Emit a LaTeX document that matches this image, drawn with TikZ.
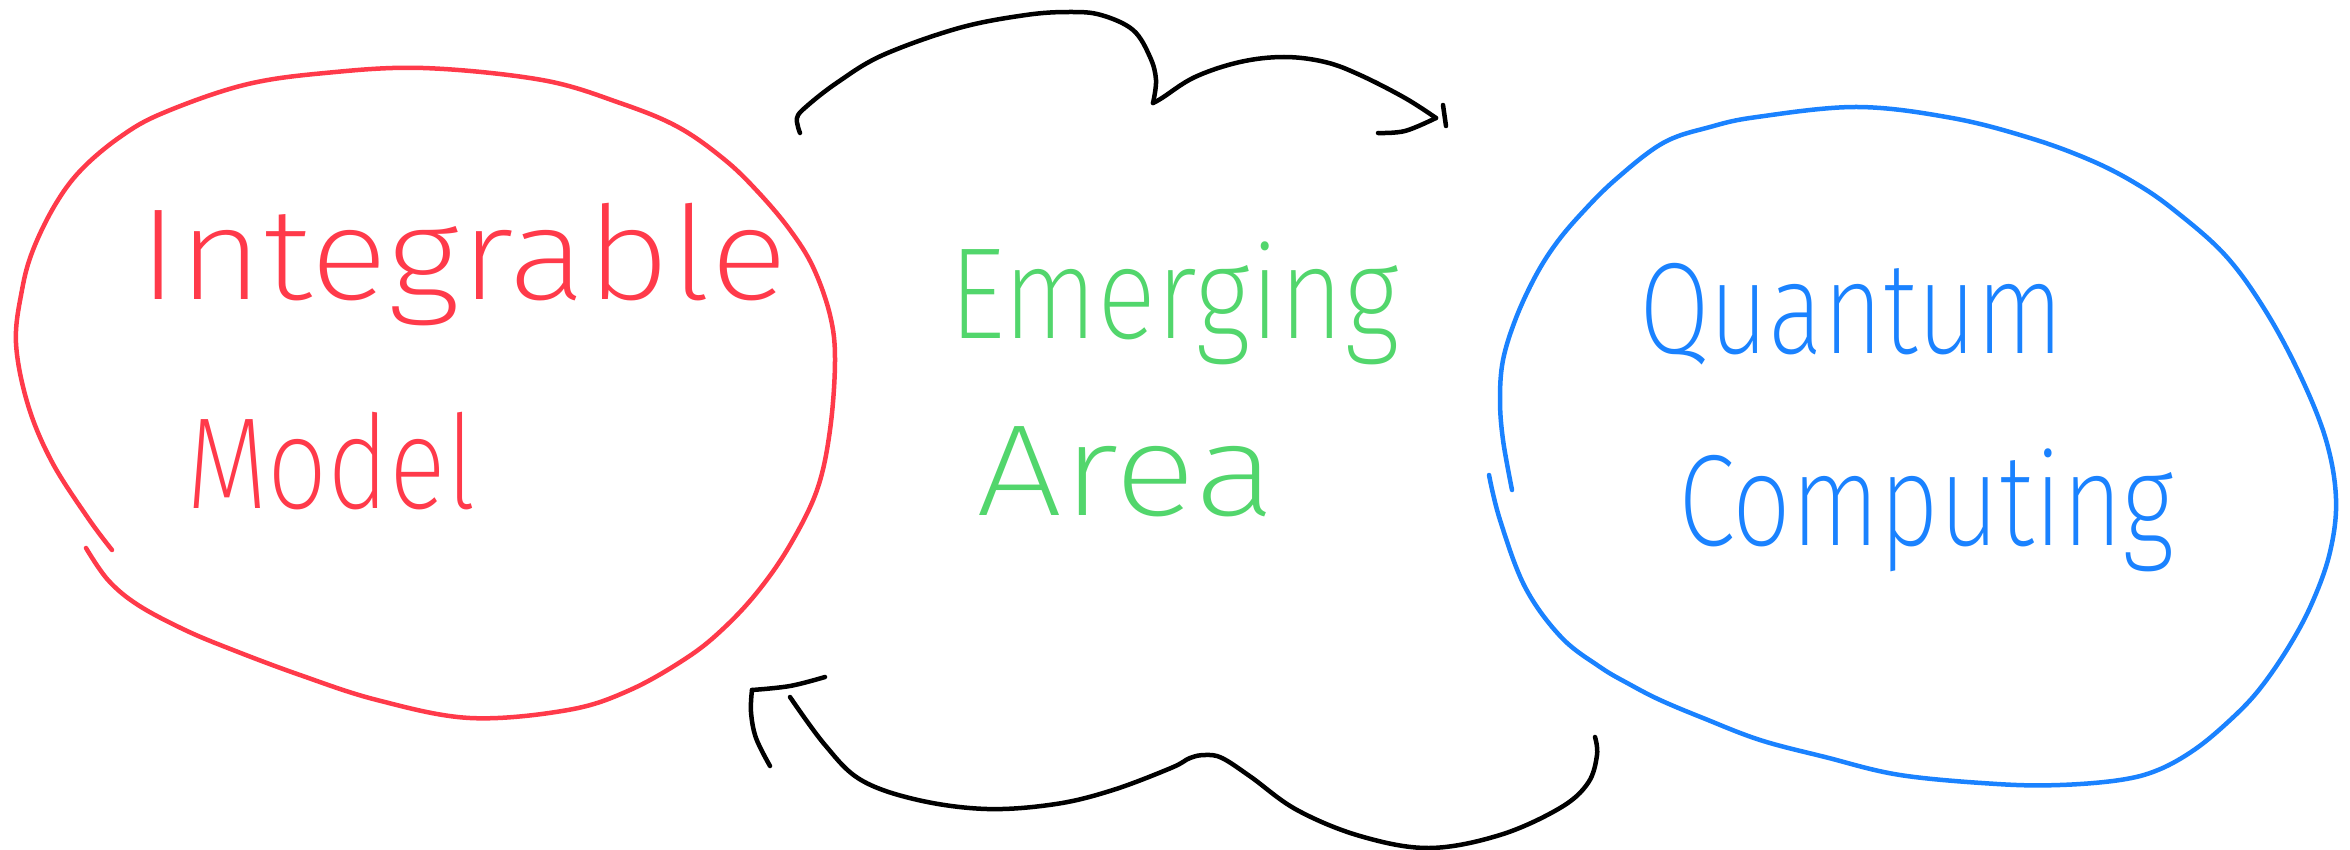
\documentclass[tikz,border=0pt]{standalone}
\usepackage{fontspec}
\usepackage{graphicx}
\newfontfamily\hand{Fira Sans}[UprightFont={* ExtraLight}]
\definecolor{myred}{RGB}{255,58,74}
\definecolor{mygreen}{RGB}{82,214,108}
\definecolor{myblue}{RGB}{26,130,255}
\tikzset{
  loopline/.style={line width=4.5pt, line cap=round, line join=round},
  arrline/.style={line width=4.5pt, line cap=round, line join=round, black},
  txt/.style={inner sep=0pt, outer sep=0pt, anchor=base west, font=\hand\fontsize{130}{130}\selectfont}
}
\begin{document}
\begin{tikzpicture}[x=1pt, y=-1pt]
\useasboundingbox[fill=white] (0,0) rectangle (2350,850);

% red loop
\draw[loopline, myred] plot[smooth, tension=0.6] coordinates {(112,550) (88,518) (52,462) (28,405) (16,343) (22,290) (33,250) (55,205) (81,170) (120,137) (163,113) (244,85) (325,73) (423,68) (542,80) (620,103) (678,127) (725,160) (759,193) (790,230) (813,267) (830,315) (835,360) (830,430) (817,490) (790,545) (759,590) (725,627) (688,657) (630,690) (568,710) (470,718) (377,700) (300,675) (233,650) (185,630) (138,605) (108,580) (86,548)};

% blue loop
\draw[loopline, myblue] plot[smooth, tension=0.6] coordinates {(1512,490) (1503,440) (1500,400) (1503,360) (1516,318) (1535,277) (1555,245) (1580,215) (1615,180) (1663,143) (1710,127) (1757,117) (1857,107) (1952,118) (2030,138) (2090,160) (2135,183) (2174,210) (2225,255) (2265,310) (2300,375) (2326,440) (2336,499) (2330,552) (2312,603) (2288,648) (2258,691) (2228,722) (2194,750) (2158,770) (2120,780) (2060,785) (1997,784) (1900,775) (1825,757) (1760,740) (1703,718) (1660,700) (1629,684) (1600,667) (1561,637) (1525,587) (1500,520) (1489,475)};

% texts
\node[txt, text=myred] (integrable) at (138,300) {\resizebox{650pt}{\height}{Integrable}};
\node[txt, text=myred] (model) at (186,508) {\resizebox{290pt}{\height}{Model}};
\node[txt, text=mygreen] (emerging) at (949,338) {\resizebox{450pt}{\height}{Emerging}};
\node[txt, text=mygreen] (area) at (976,515) {\resizebox{300pt}{\height}{Area}};
\node[txt, text=myblue] (quantum) at (1639,353) {\resizebox{425pt}{\height}{Quantum}};
\node[txt, text=myblue] (computing) at (1678,545) {\resizebox{496pt}{\height}{Computing}};

% top arrow
\coordinate (ta) at (800,133);
\coordinate (tcusp) at (1153,103);
\coordinate (ttip) at (1436,118);
\draw[arrline] plot[smooth, tension=0.6] coordinates {(ta) (797,118) (807,106) (838,82) (883,55) (959,28) (1026,15) (1070,12) (1101,15) (1133,30) (1150,57) (1156,80) (tcusp)};
\draw[arrline] plot[smooth, tension=0.6] coordinates {(tcusp) (1162,98) (1195,77) (1240,62) (1284,57) (1325,62) (1360,75) (1405,98) (ttip)};
\draw[arrline] plot[smooth, tension=0.6] coordinates {(1378,133) (1405,131) (ttip)};
\draw[arrline] (1443,105) -- (1446,126);

% bottom arrow
\coordinate (ba) at (1595,737);
\coordinate (bend) at (790,697);
\coordinate (bcorner) at (752,690);
\draw[arrline] plot[smooth, tension=0.6] coordinates {(ba) (1597,755) (1588,783) (1560,808) (1500,835) (1429,848) (1360,836) (1297,810) (1251,777) (1222,758) (1205,755) (1190,758) (1171,768) (1113,790) (1056,804) (987,809) (918,800) (861,780) (825,745) (bend)};
\draw[arrline] plot[smooth, tension=0.6] coordinates {(825,677) (790,686) (bcorner)};
\draw[arrline] plot[smooth, tension=0.6] coordinates {(bcorner) (751,712) (756,738) (770,766)};
\end{tikzpicture}
\end{document}
